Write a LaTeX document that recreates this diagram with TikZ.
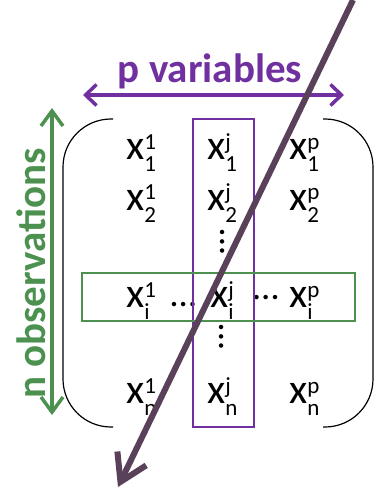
\documentclass[tikz,border=0pt]{standalone}
\usepackage{fontspec}
\setmainfont{Carlito}
\usetikzlibrary{arrows.meta}
\definecolor{varpurple}{HTML}{7030A0}
\definecolor{obsgreen}{HTML}{4C9150}
\definecolor{pcdark}{HTML}{5A415A}
% matrix entry: x with superscript (variable) and subscript (observation)
\newcommand{\xent}[2]{x\rlap{\raisebox{10pt}{\fontsize{23}{23}\selectfont #1}}\raisebox{-12pt}{\fontsize{23}{23}\selectfont #2}}

\begin{document}
\begin{tikzpicture}[x=1pt,y=-1pt,
  entry/.style={anchor=base west,inner sep=0pt,font=\fontsize{42}{42}\selectfont},
  dots/.style={inner sep=0pt,font=\fontsize{37}{37}\selectfont},
  label/.style={inner sep=0pt,font=\fontsize{41}{41}\selectfont\bfseries},
  bracket/.style={line width=1.2pt,rounded corners=48pt}]
\useasboundingbox (0,0) rectangle (382,494);

   % entries
   \node[entry] at (126,160) (x11) {\xent{1}{1}};
   \node[entry] at (207,160) (x1j) {\xent{j}{1}};
   \node[entry] at (289,160) (x1p) {\xent{p}{1}};
   \node[entry] at (126,210) (x21) {\xent{1}{2}};
   \node[entry] at (207,210) (x2j) {\xent{j}{2}};
   \node[entry] at (289,210) (x2p) {\xent{p}{2}};
   \node[entry] at (126,307) (xi1) {\xent{1}{i}};
   \node[entry] at (210,307) (xij) {\xent{j}{i}};
   \node[entry] at (289,307) (xip) {\xent{p}{i}};
   \node[entry] at (126,403) (xn1) {\xent{1}{n}};
   \node[entry] at (207,403) (xnj) {\xent{j}{n}};
   \node[entry] at (289,403) (xnp) {\xent{p}{n}};

   \node[dots] at (183.5,305) (hdotsa) {…};
   \node[dots] at (266,298) (hdotsb) {…};
   \node[dots,rotate=90] at (223,241.5) (vdotsa) {…};
   \node[dots,rotate=90] at (222,337) (vdotsb) {…};

   % brackets
   \draw[bracket] (113,119) -- (63,119) -- (63,427) -- (113,427);
   \draw[bracket] (323,119) -- (373,119) -- (373,427) -- (323,427);

   % column j and row i
   \draw[varpurple,line width=2pt] (193,119) rectangle (254,427);
   \draw[obsgreen,line width=2pt] (82,273) rectangle (355,321);

   % sizes
   \node[label,text=varpurple,anchor=base] at (210,83) (pvar) {p variables};
   \coordinate (pl) at (83,95);
   \coordinate (pr) at (344,95);
   \draw[varpurple,line width=3.5pt,{Straight Barb[length=11pt,width=21pt]}-{Straight Barb[length=11pt,width=21pt]}] (pl) -- (pr);

   \node[label,text=obsgreen,rotate=90,anchor=base] at (45,273.5) (nobs) {n observations};
   \coordinate (nt) at (52,108);
   \coordinate (nb) at (52,415);
   \draw[obsgreen,line width=3.5pt,{Straight Barb[length=15pt,width=22pt]}-{Straight Barb[length=15pt,width=22pt]}] (nt) -- (nb);

   % projection direction
   \coordinate (top) at (353,0);
   \coordinate (tip) at (118,487);
   \draw[pcdark,line width=6pt,-{Straight Barb[length=26pt,width=32pt]}] (top) -- (tip);

\end{tikzpicture}
\end{document}
